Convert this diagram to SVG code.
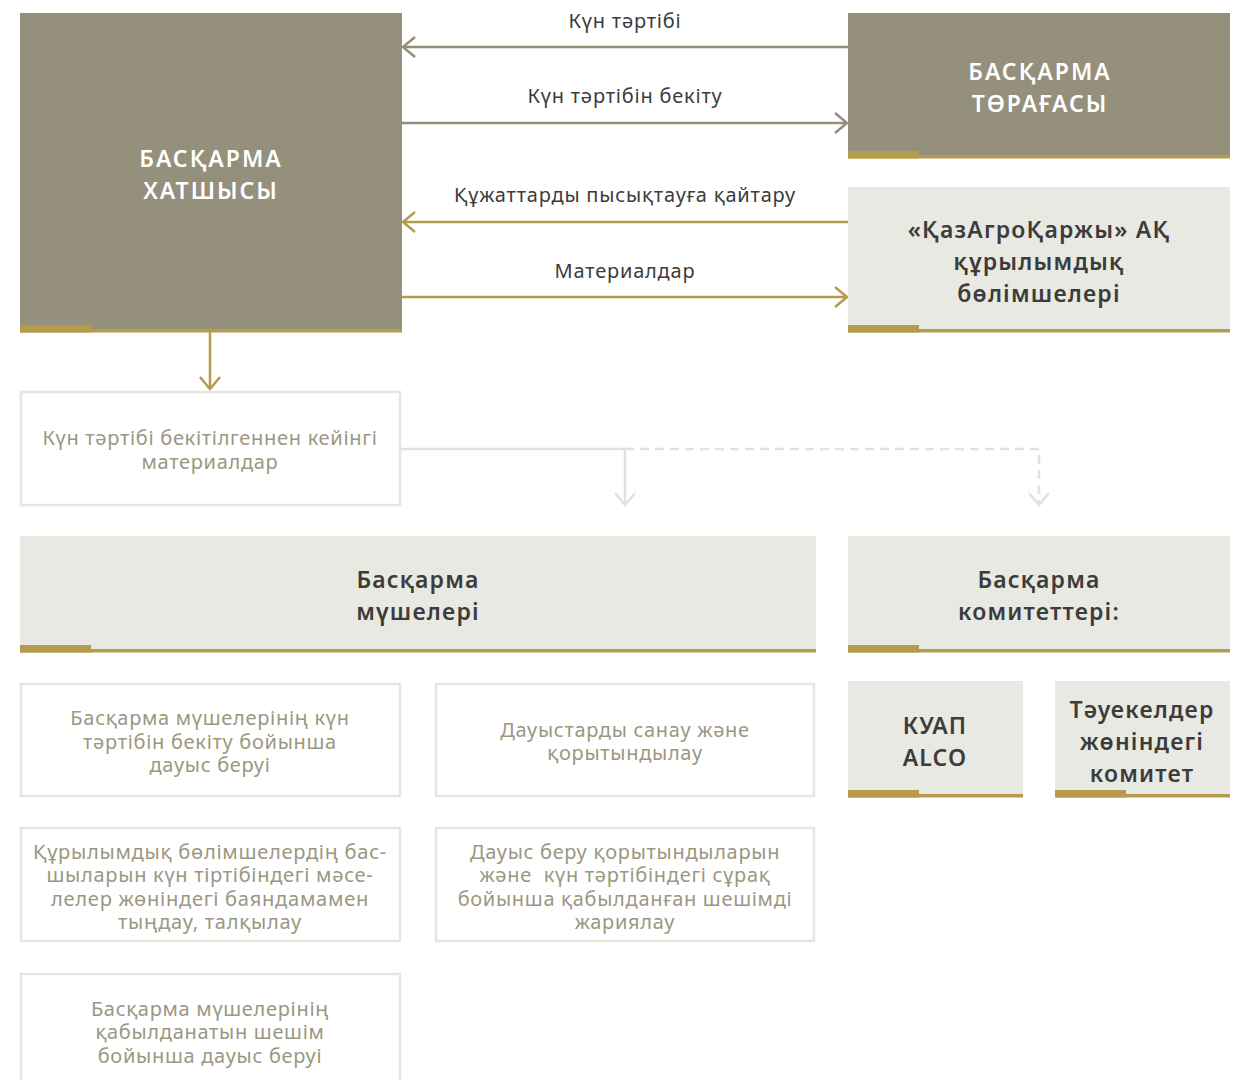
<svg xmlns="http://www.w3.org/2000/svg" width="1248" height="1080" viewBox="0 0 1248 1080">
<defs>
<style>
.dark{fill:#94907c}
.light{fill:#e9e9e3}
.gold{fill:#b59b4c}
.box{fill:#ffffff;stroke:#e6e5de;stroke-width:2.5}
.t{font-family:"Noto Sans","DejaVu Sans",sans-serif;text-anchor:middle}
.h{font-size:23px;font-weight:600;fill:#ffffff;letter-spacing:2px}
.hd{font-size:23px;font-weight:600;fill:#3c3c3a;letter-spacing:1.2px}
.lbl{font-size:20px;fill:#3c3c3a;letter-spacing:0.8px}
.s{font-size:20px;fill:#9a9782;letter-spacing:0.7px}
.cg{stroke:#94907c;stroke-width:2.5;fill:none}
.cy{stroke:#b59b4c;stroke-width:2.5;fill:none}
.cl{stroke:#e2e1da;stroke-width:2.5;fill:none}
</style>
<marker id="ag" markerUnits="userSpaceOnUse" markerWidth="20" markerHeight="24" viewBox="0 0 20 24" refX="17" refY="12" orient="auto"><path d="M5,2 L17,12 L5,22" fill="none" stroke="#94907c" stroke-width="2.5"/></marker>
<marker id="ay" markerUnits="userSpaceOnUse" markerWidth="20" markerHeight="24" viewBox="0 0 20 24" refX="17" refY="12" orient="auto"><path d="M5,2 L17,12 L5,22" fill="none" stroke="#b59b4c" stroke-width="2.5"/></marker>
<marker id="al" markerUnits="userSpaceOnUse" markerWidth="20" markerHeight="24" viewBox="0 0 20 24" refX="17" refY="12" orient="auto"><path d="M5,2 L17,12 L5,22" fill="none" stroke="#e2e1da" stroke-width="2.5"/></marker>
</defs>
<rect width="1248" height="1080" fill="#ffffff"/>

<g id="connectors">
<line class="cg" x1="848" y1="47" x2="403" y2="47" marker-end="url(#ag)"/>
<line class="cg" x1="402" y1="123" x2="847" y2="123" marker-end="url(#ag)"/>
<line class="cy" x1="848" y1="222" x2="403" y2="222" marker-end="url(#ay)"/>
<line class="cy" x1="402" y1="297" x2="847" y2="297" marker-end="url(#ay)"/>
<line class="cy" x1="210" y1="332" x2="210" y2="389" marker-end="url(#ay)"/>
<polyline class="cl" points="401,449 625,449 625,505" marker-end="url(#al)"/>
<polyline class="cl" points="625,449 1039,449 1039,505" stroke-dasharray="9,6" marker-end="url(#al)"/>
<text class="t lbl" x="625" y="28">Күн тәртібі</text>
<text class="t lbl" x="625" y="103">Күн тәртібін бекіту</text>
<text class="t lbl" x="625" y="202">Құжаттарды пысықтауға қайтару</text>
<text class="t lbl" x="625" y="278">Материалдар</text>
</g>

<g id="hatshysy">
<rect class="dark" x="20" y="13" width="382" height="319"/>
<rect class="gold" x="20" y="329" width="382" height="3.5"/>
<rect class="gold" x="20" y="325" width="71" height="7.5"/>
<text class="t h" x="211" y="167">БАСҚАРМА</text>
<text class="t h" x="211" y="199">ХАТШЫСЫ</text>
</g>

<g id="toragasy">
<rect class="dark" x="848" y="13" width="382" height="145"/>
<rect class="gold" x="848" y="155" width="382" height="3.5"/>
<rect class="gold" x="848" y="151" width="71" height="7.5"/>
<text class="t h" x="1040" y="80">БАСҚАРМА</text>
<text class="t h" x="1040" y="112">ТӨРАҒАСЫ</text>
</g>

<g id="bolimsheler">
<rect class="light" x="848" y="187" width="382" height="145"/>
<rect class="gold" x="848" y="329" width="382" height="3.5"/>
<rect class="gold" x="848" y="325" width="71" height="7.5"/>
<text class="t hd" x="1039" y="238">«ҚазАгроҚаржы» АҚ</text>
<text class="t hd" x="1039" y="270">құрылымдық</text>
<text class="t hd" x="1039" y="302">бөлімшелері</text>
</g>

<g id="materialdar">
<rect class="box" x="21" y="392" width="379" height="113"/>
<text class="t s" x="210" y="445">Күн тәртібі бекітілгеннен кейінгі</text>
<text class="t s" x="210" y="469">материалдар</text>
</g>

<g id="mushe">
<rect class="light" x="20" y="536" width="796" height="116"/>
<rect class="gold" x="20" y="649" width="796" height="3.5"/>
<rect class="gold" x="20" y="645" width="71" height="7.5"/>
<text class="t hd" x="418" y="588">Басқарма</text>
<text class="t hd" x="418" y="620">мүшелері</text>
</g>

<g id="komitet">
<rect class="light" x="848" y="536" width="382" height="116"/>
<rect class="gold" x="848" y="649" width="382" height="3.5"/>
<rect class="gold" x="848" y="645" width="71" height="7.5"/>
<text class="t hd" x="1039" y="588">Басқарма</text>
<text class="t hd" x="1039" y="620">комитеттері:</text>
</g>

<g id="kuap">
<rect class="light" x="848" y="681" width="175" height="116"/>
<rect class="gold" x="848" y="794" width="175" height="3.5"/>
<rect class="gold" x="848" y="790" width="71" height="7.5"/>
<text class="t hd" x="935" y="734">КУАП</text>
<text class="t hd" x="935" y="766">ALCO</text>
</g>

<g id="tauekel">
<rect class="light" x="1055" y="681" width="175" height="116"/>
<rect class="gold" x="1055" y="794" width="175" height="3.5"/>
<rect class="gold" x="1055" y="790" width="71" height="7.5"/>
<text class="t hd" x="1142" y="718">Тәуекелдер</text>
<text class="t hd" x="1142" y="750">жөніндегі</text>
<text class="t hd" x="1142" y="782">комитет</text>
</g>

<g id="dauys-beru">
<rect class="box" x="21" y="684" width="379" height="112"/>
<text class="t s" x="210" y="725">Басқарма мүшелерінің күн</text>
<text class="t s" x="210" y="749">тәртібін бекіту бойынша</text>
<text class="t s" x="210" y="772">дауыс беруі</text>
</g>

<g id="sanau">
<rect class="box" x="436" y="684" width="378" height="112"/>
<text class="t s" x="625" y="737">Дауыстарды санау және</text>
<text class="t s" x="625" y="760">қорытындылау</text>
</g>

<g id="tyndau">
<rect class="box" x="21" y="828" width="379" height="113"/>
<text class="t s" x="210" y="859" textLength="354" lengthAdjust="spacingAndGlyphs">Құрылымдық бөлімшелердің бас-</text>
<text class="t s" x="210" y="882" textLength="327" lengthAdjust="spacingAndGlyphs">шыларын күн тіртібіндегі мәсе-</text>
<text class="t s" x="210" y="906" textLength="318" lengthAdjust="spacingAndGlyphs">лелер жөніндегі баяндамамен</text>
<text class="t s" x="210" y="929" textLength="184" lengthAdjust="spacingAndGlyphs">тыңдау, талқылау</text>
</g>

<g id="zhariyalau">
<rect class="box" x="436" y="828" width="378" height="113"/>
<text class="t s" x="625" y="859">Дауыс беру қорытындыларын</text>
<text class="t s" x="625" y="882" xml:space="preserve">және  күн тәртібіндегі сұрақ</text>
<text class="t s" x="625" y="906">бойынша қабылданған шешімді</text>
<text class="t s" x="625" y="929">жариялау</text>
</g>

<g id="sheshim">
<rect class="box" x="21" y="974" width="379" height="120"/>
<text class="t s" x="210" y="1016">Басқарма мүшелерінің</text>
<text class="t s" x="210" y="1039">қабылданатын шешім</text>
<text class="t s" x="210" y="1063">бойынша дауыс беруі</text>
</g>
</svg>
